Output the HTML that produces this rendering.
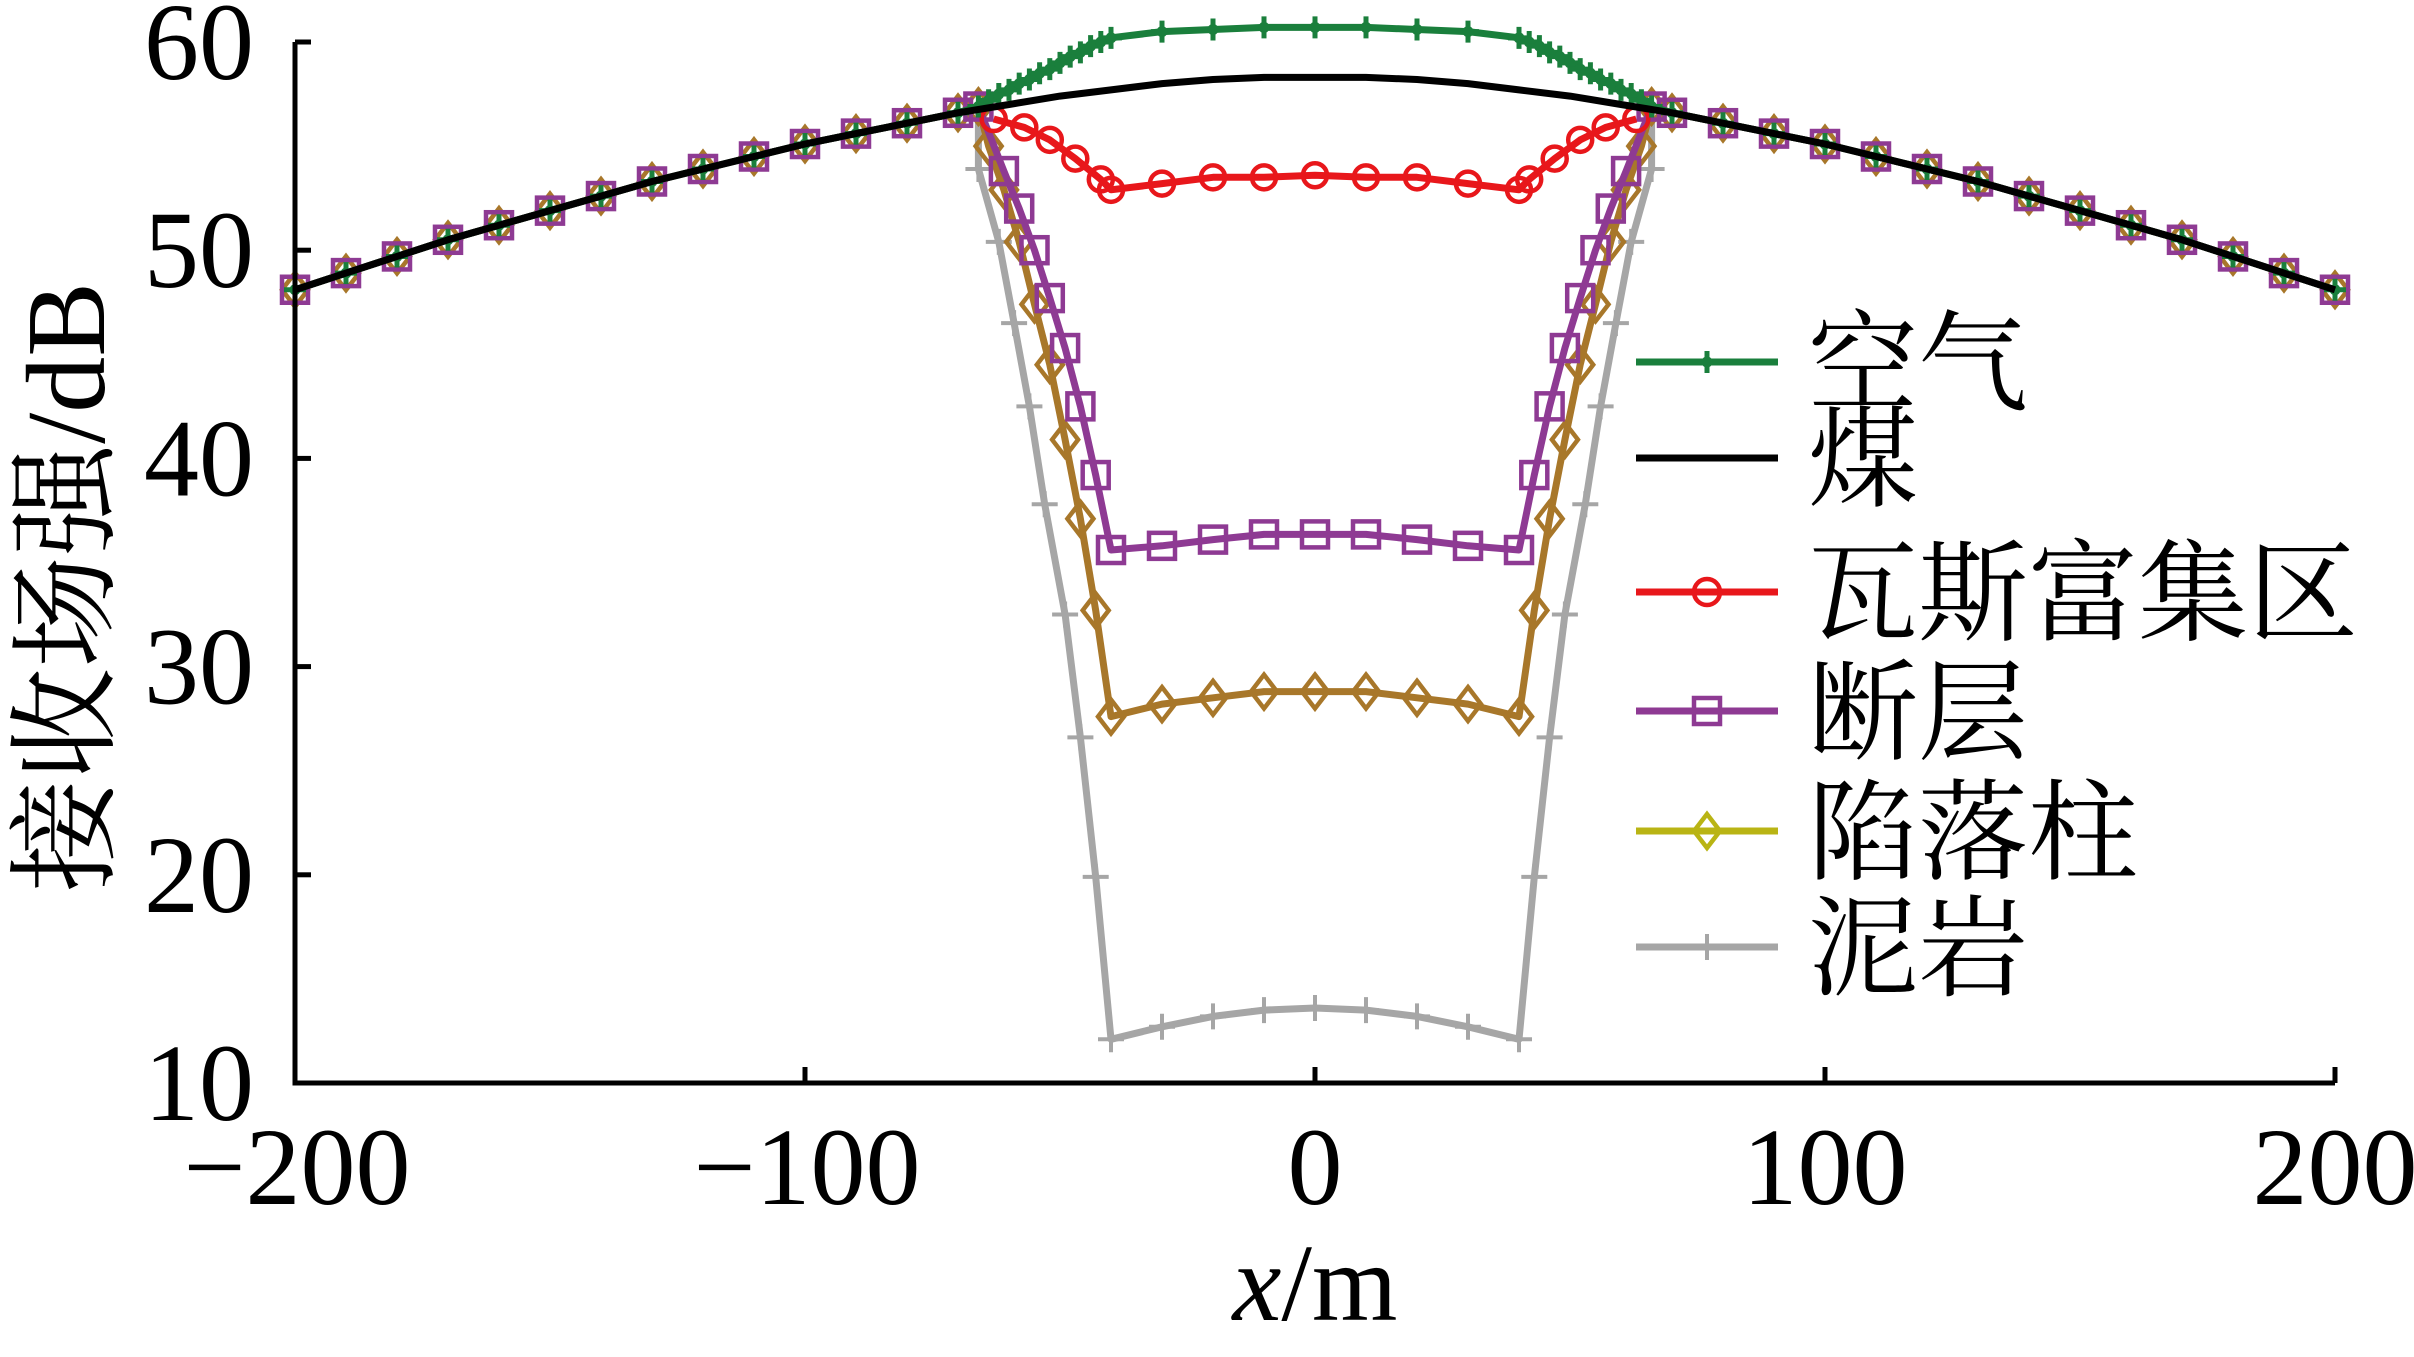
<!DOCTYPE html>
<html><head><meta charset="utf-8">
<style>
html,body{margin:0;padding:0;background:#fff;}
svg{display:block;}
text{font-family:"Liberation Serif","Noto Serif CJK SC","Noto Sans CJK SC",serif;fill:#000;}
</style></head>
<body>
<svg id="chart" width="2414" height="1357" viewBox="0 0 2414 1357" xmlns="http://www.w3.org/2000/svg">
<g id="plot"></g>
<g id="axes"></g>
<g id="legend"></g>
</svg>
<script>
// ---- data ----
const xTicks = [-200, -100, 0, 100, 200];
const xTickLabels = ["\u2212200", "\u2212100", "0", "100", "200"];
const yTicks = [10, 20, 30, 40, 50, 60];
const yTickLabels = ["10", "20", "30", "40", "50", "60"];

const coalX = [-200,-190,-180,-170,-160,-150,-140,-130,-120,-110,-100,-90,-80,-70,-60,-50,-40,-30,-20,-10,0];
const coalY = [48.1,48.9,49.7,50.5,51.2,51.9,52.6,53.3,53.9,54.5,55.1,55.6,56.1,56.6,57.0,57.4,57.7,58.0,58.2,58.3,58.3];

const outerX = [-200,-190,-180,-170,-160,-150,-140,-130,-120,-110,-100,-90,-80,-70,-66];
const outerY = [48.1,48.9,49.7,50.5,51.2,51.9,52.6,53.3,53.9,54.5,55.1,55.6,56.1,56.6,56.9];

const airX = [-64,-62,-60,-58,-56,-54,-52,-50,-48,-46,-44,-42,-40,-30,-20,-10,0];
const airY = [57.2,57.5,57.7,58.0,58.2,58.5,58.7,59.0,59.3,59.5,59.8,60.0,60.2,60.5,60.6,60.7,60.7];
const gasX = [-63,-57,-52,-47,-42,-40,-30,-20,-10,0];
const gasY = [56.3,55.9,55.3,54.4,53.4,52.9,53.2,53.5,53.5,53.6];
const faultX = [-61,-58,-55,-52,-49,-46,-43,-40,-30,-20,-10,0];
const faultY = [53.8,52.0,50.0,47.7,45.3,42.5,39.2,35.6,35.8,36.1,36.35,36.35];
const colX = [-64,-61,-58,-55,-52,-49,-46,-43,-40,-30,-20,-10,0];
const colY = [55.0,52.9,50.4,47.4,44.5,40.9,37.1,32.7,27.6,28.2,28.5,28.8,28.8];
const mudX = [-66,-62,-59,-56,-53,-49,-46,-43,-40,-30,-20,-10,0];
const mudY = [53.9,50.4,46.5,42.5,37.8,32.5,26.6,19.9,12.1,12.7,13.2,13.5,13.6];

const seriesNames = ["空气","煤","瓦斯富集区","断层","陷落柱","泥岩"];

// ---- scales ----
const X0=295, X1=2335, Y60=42, Y10=1083;
function sx(v){return X0+(v+200)/400*(X1-X0);}
function sy(v){return Y10-(v-10)/50*(Y10-Y60);}
const NS="http://www.w3.org/2000/svg";
function mk(tag,attrs,parent){const e=document.createElementNS(NS,tag);for(const k in attrs)e.setAttribute(k,attrs[k]);parent.appendChild(e);return e;}

function fullSeries(ix,iy,withOuter){
  let xs=[],ys=[];
  if(withOuter){xs=xs.concat(outerX);ys=ys.concat(outerY);}
  xs=xs.concat(ix);ys=ys.concat(iy);
  const n=xs.length;
  for(let i=n-1;i>=0;i--){ if(xs[i]===0) continue; xs.push(-xs[i]); ys.push(ys[i]); }
  return {xs,ys};
}
const plot=document.getElementById('plot');

function marker(g,type,x,y,color,size){
  const s=size;
  if(type==='plus'){
    mk('path',{d:`M${x-s} ${y}H${x+s}M${x} ${y-s}V${y+s}`,stroke:color,'stroke-width':4,fill:'none'},g);
  } else if(type==='star'){
    mk('path',{d:`M${x-s} ${y}H${x+s}M${x} ${y-s}V${y+s}`,stroke:color,'stroke-width':5,fill:'none'},g);
    mk('circle',{cx:x,cy:y,r:s*0.5,fill:color},g);
  } else if(type==='circle'){
    mk('circle',{cx:x,cy:y,r:s,stroke:color,'stroke-width':4.5,fill:'none'},g);
  } else if(type==='square'){
    mk('rect',{x:x-s,y:y-s,width:2*s,height:2*s,stroke:color,'stroke-width':4.5,fill:'none'},g);
  } else if(type==='diamond'){
    mk('path',{d:`M${x} ${y-s*1.3}L${x+s} ${y}L${x} ${y+s*1.3}L${x-s} ${y}Z`,stroke:color,'stroke-width':4.5,fill:'none'},g);
  }
}
function drawSeries(name,ix,iy,color,mtype,msize,withOuter,lw){
  const g=mk('g',{},plot);
  
  
  const d=fullSeries(ix,iy,withOuter);
  const pts=d.xs.map((v,i)=>sx(v).toFixed(1)+','+sy(d.ys[i]).toFixed(1)).join(' ');
  const pl=mk('polyline',{points:pts,fill:'none',stroke:color,'stroke-width':lw,'stroke-linejoin':'round'},g);
  
  
  if(mtype){ d.xs.forEach((v,i)=>marker(g,mtype,sx(v),sy(d.ys[i]),color,msize)); }
}
drawSeries('series-mudstone',mudX,mudY,'#a6a6a6','plus',13,true,7);
drawSeries('series-collapse-column',colX,colY,'#a8772a','diamond',13,true,7);
drawSeries('series-fault',faultX,faultY,'#8e3a93','square',13,true,7);
drawSeries('series-gas-rich',gasX,gasY,'#e8171b','circle',12,false,7);
drawSeries('series-air',airX,airY,'#1a7f3c','star',11,true,7);
drawSeries('series-coal',coalX,coalY,'#000','',0,false,7);

// ---- axes ----
const ax=document.getElementById('axes');
mk('path',{d:`M${X0} ${Y60}V${Y10}H${X1}`,stroke:'#000','stroke-width':5,fill:'none'},ax);
yTicks.forEach((v,i)=>{
  const t=mk('line',{x1:X0,x2:X0+16,y1:sy(v),y2:sy(v),stroke:'#000','stroke-width':5},ax);
  
  
  const l=mk('text',{x:254,y:sy(v)+37,'text-anchor':'end','font-size':110},ax);
  l.textContent=yTickLabels[i];
  
  
});
xTicks.forEach((v,i)=>{
  const t=mk('line',{x1:sx(v),x2:sx(v),y1:Y10,y2:Y10-16,stroke:'#000','stroke-width':5},ax);
  
  
  const l=mk('text',{x:sx(v)+(v<0?2:0),y:1204,'text-anchor':'middle','font-size':110},ax);
  l.textContent=xTickLabels[i];
  
  
});
const xt=mk('text',{x:1315,y:1320,'text-anchor':'middle','font-size':110},ax);
xt.innerHTML='<tspan font-style="italic">x</tspan>/m';


const yt=mk('text',{x:0,y:0,'text-anchor':'middle','font-size':112,transform:'translate(104,587) rotate(-90)'},ax);
yt.textContent='接收场强/dB';



// ---- legend ----
const lg=document.getElementById('legend');
const legColors=['#1a7f3c','#000','#e8171b','#8e3a93','#b9b414','#a6a6a6'];
const legMarkers=['star','','circle','square','diamond','plus'];
const legY=[362,458,592,711,831,947];
seriesNames.forEach((n,i)=>{
  const g=mk('g',{},lg);
  
  
  mk('line',{x1:1636,x2:1778,y1:legY[i],y2:legY[i],stroke:legColors[i],'stroke-width':7},g);
  if(legMarkers[i]) marker(g,legMarkers[i],1707,legY[i],legColors[i],legMarkers[i]==='star'?11:13);
  const t=mk('text',{x:1808,y:legY[i]+40,'font-size':110},g);
  t.textContent=n;
});
</script>
</body></html>
